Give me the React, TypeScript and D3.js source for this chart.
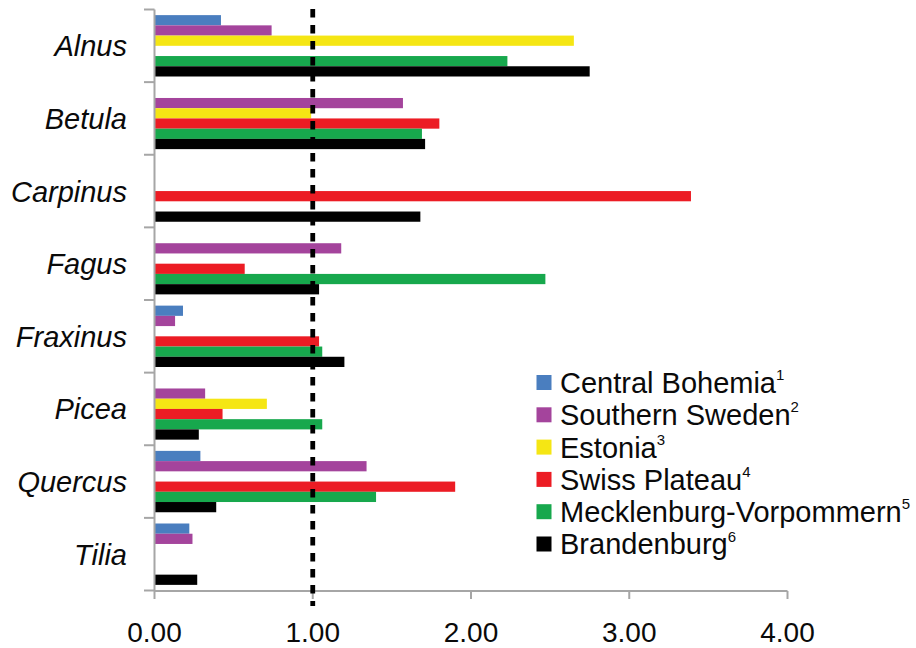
import React from "react";
import * as d3 from "d3";

// Genera (y categories) and regions (series)
const genera = ["Alnus", "Betula", "Carpinus", "Fagus", "Fraxinus", "Picea", "Quercus", "Tilia"];
const regions = ["Central Bohemia", "Southern Sweden", "Estonia", "Swiss Plateau", "Mecklenburg-Vorpommern", "Brandenburg"];
const regionNotes = ["1", "2", "3", "4", "5", "6"];
const regionColors = ["#4a7ebf", "#a4449c", "#f5e614", "#ec1c24", "#17a84d", "#000000"];

// Ratios per region, ordered as genera; null = no value
const centralBohemia = [0.42, null, null, null, 0.18, null, 0.29, 0.22];
const southernSweden = [0.74, 1.57, null, 1.18, 0.13, 0.32, 1.34, 0.24];
const estonia = [2.65, 0.99, null, null, null, 0.71, null, null];
const swissPlateau = [null, 1.8, 3.39, 0.57, 1.04, 0.43, 1.9, null];
const mecklenburg = [2.23, 1.69, null, 2.47, 1.06, 1.06, 1.4, null];
const brandenburg = [2.75, 1.71, 1.68, 1.04, 1.2, 0.28, 0.39, 0.27];

const seriesValues = [centralBohemia, southernSweden, estonia, swissPlateau, mecklenburg, brandenburg];
const xTicks = [0, 1, 2, 3, 4];
const referenceValue = 1;

const FONT = "'Liberation Sans', Arial, Helvetica, sans-serif";
const AXIS = "#a6a6a6";

export default function App() {
  const width = 916;
  const height = 648;
  const x = d3.scaleLinear().domain([0, 4]).range([154.5, 787.5]);
  const y = d3.scaleBand<string>().domain(genera).range([9.5, 590.5]).padding(0);
  const band = y.bandwidth();
  const barH = band / (regions.length + 1.1);
  const offset = (band - barH * regions.length) / 2;
  const axisY = 591;

  return (
    <svg
      width={width}
      height={height}
      style={{ position: "absolute", left: 0, top: 0, background: "#fff" }}
      fontFamily={FONT}
    >
      {/* bars */}
      {seriesValues.map((vals, si) =>
        vals.map((v, gi) =>
          v == null ? null : (
            <rect
              key={`${si}-${gi}`}
              x={x(0)}
              y={(y(genera[gi]) as number) + offset + si * barH}
              width={x(v) - x(0)}
              height={barH}
              fill={regionColors[si]}
            />
          )
        )
      )}

      {/* y axis */}
      <line x1={x(0)} x2={x(0)} y1={9.5} y2={axisY} stroke={AXIS} strokeWidth={2} />
      {genera.map((g) => (
        <line key={g} x1={144} x2={x(0)} y1={y(g) as number} y2={y(g) as number} stroke={AXIS} strokeWidth={2} />
      ))}
      <line x1={144} x2={x(0)} y1={590.5} y2={590.5} stroke={AXIS} strokeWidth={2} />
      {genera.map((g) => (
        <text
          key={g}
          x={127}
          y={(y(g) as number) + band / 2}
          dy="0.36em"
          textAnchor="end"
          fontSize={29}
          fontStyle="italic"
          fill="#0a0a0a"
        >
          {g}
        </text>
      ))}

      {/* x axis */}
      <line x1={x(0)} x2={x(4)} y1={axisY} y2={axisY} stroke={AXIS} strokeWidth={2} />
      {xTicks.map((t) => (
        <g key={t}>
          <line x1={x(t)} x2={x(t)} y1={axisY} y2={axisY + 8} stroke={AXIS} strokeWidth={2} />
          <text x={x(t)} y={641.5} textAnchor="middle" fontSize={28} fill="#0a0a0a">
            {d3.format(".2f")(t)}
          </text>
        </g>
      ))}

      {/* reference line at 1.00 */}
      <line
        x1={x(referenceValue)}
        x2={x(referenceValue)}
        y1={9}
        y2={606}
        stroke="#000"
        strokeWidth={4.8}
        strokeDasharray="8.5 7.5"
      />

      {/* legend */}
      {regions.map((r, i) => {
        const cy = 382.5 + i * 32.3;
        return (
          <g key={r}>
            <rect x={536.5} y={cy - 7.5} width={15} height={15} fill={regionColors[i]} />
            <text x={560} y={cy} dy="0.36em" fontSize={29} fill="#0a0a0a">
              {r}
              <tspan fontSize={15} dy="-0.85em">{regionNotes[i]}</tspan>
            </text>
          </g>
        );
      })}
    </svg>
  );
}
